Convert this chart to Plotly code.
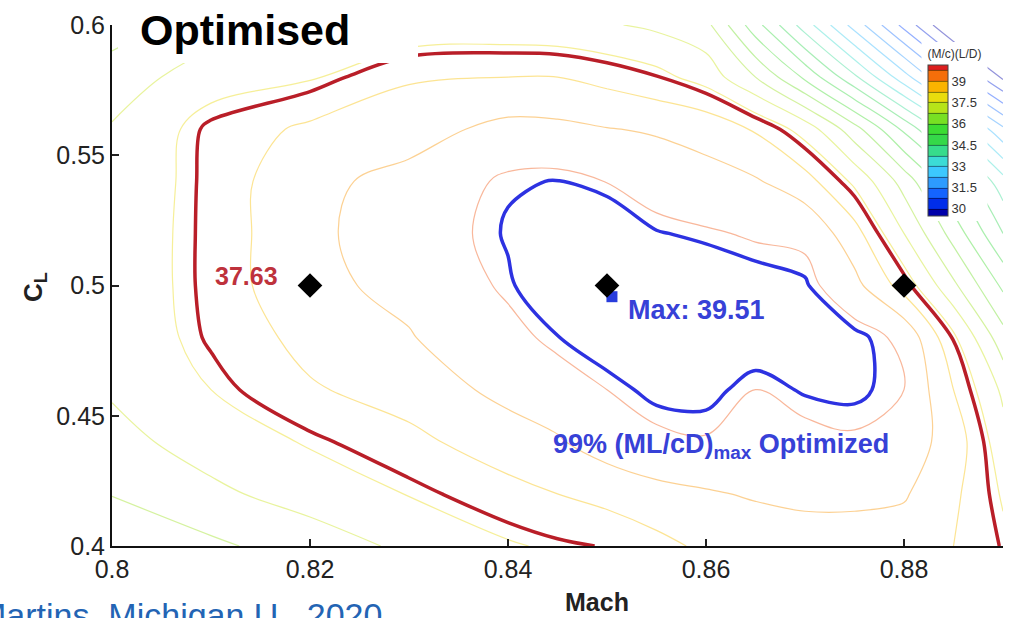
import plotly.graph_objects as go

# ---- data ----
mach = [0.80, 0.81, 0.82, 0.83, 0.84, 0.845, 0.85, 0.855, 0.86, 0.865, 0.87, 0.875, 0.88, 0.885, 0.89]
cl = [0.40, 0.42, 0.44, 0.46, 0.48, 0.50, 0.52, 0.54, 0.56, 0.58, 0.60]

ml_cd_040 = [36.1, 36.4, 36.75, 37.1, 37.45, 37.57, 37.65, 37.85, 38.1, 38.2, 38.3, 38.3, 38.25, 38.0, 37.6]
ml_cd_042 = [36.52, 36.9, 37.2, 37.52, 37.85, 38.0, 38.15, 38.35, 38.45, 38.55, 38.6, 38.6, 38.55, 38.1, 37.45]
ml_cd_044 = [36.85, 37.2, 37.55, 37.88, 38.25, 38.45, 38.75, 38.9, 38.97, 38.9, 38.88, 38.95, 38.75, 38.3, 37.2]
ml_cd_046 = [37.05, 37.5, 37.95, 38.2, 38.65, 38.79, 39.0, 39.2, 39.2, 39.0, 39.14, 39.17, 39.0, 38.0, 36.9]
ml_cd_048 = [37.12, 37.68, 38.15, 38.47, 38.87, 39.1, 39.3, 39.35, 39.3, 39.3, 39.25, 39.2, 38.9, 37.6, 36.2]
ml_cd_050 = [37.15, 37.72, 38.39, 38.62, 39.07, 39.35, 39.5, 39.45, 39.35, 39.25, 39.15, 38.65, 37.8, 36.6, 35.4]
ml_cd_052 = [37.15, 37.72, 38.4, 38.75, 39.14, 39.3, 39.4, 39.13, 39.05, 38.95, 38.9, 38.2, 37.0, 35.8, 34.5]
ml_cd_054 = [37.1, 37.72, 38.38, 38.65, 39.08, 39.12, 38.99, 38.8, 38.65, 38.55, 38.2, 37.4, 36.3, 35.0, 33.7]
ml_cd_056 = [37.05, 37.7, 38.1, 38.3, 38.65, 38.62, 38.52, 38.45, 38.35, 37.95, 37.3, 36.2, 34.9, 33.5, 32.1]
ml_cd_058 = [36.7, 37.3, 37.45, 37.95, 38.0, 38.0, 37.85, 37.65, 37.3, 36.5, 35.4, 34.1, 32.7, 31.3, 29.9]
ml_cd_060 = [36.3, 36.7, 36.95, 37.15, 37.2, 37.15, 37.05, 36.9, 36.65, 35.2, 33.75, 32.3, 30.85, 29.4, 28.0]

z_grid = [ml_cd_040, ml_cd_042, ml_cd_044, ml_cd_046, ml_cd_048, ml_cd_050,
          ml_cd_052, ml_cd_054, ml_cd_056, ml_cd_058, ml_cd_060]

design_mach = [0.82, 0.85, 0.88]
design_cl = [0.5, 0.5, 0.5]
max_point = (0.8505, 0.4957)
max_value = 39.51
level_red = 37.63
level_blue = 39.11

x_ticks = [0.80, 0.82, 0.84, 0.86, 0.88]
x_ticktext = ["0.8", "0.82", "0.84", "0.86", "0.88"]
y_ticks = [0.40, 0.45, 0.50, 0.55, 0.60]
y_ticktext = ["0.4", "0.45", "0.5", "0.55", "0.6"]
cbar_ticks = [30, 31.5, 33, 34.5, 36, 37.5, 39]

FONT = "Liberation Sans, Arial, sans-serif"
ZMIN, ZMAX = 29.5, 40.0

stops = [
    (29.5, "rgb(0,0,170)"), (30.5, "rgb(0,60,255)"), (31.5, "rgb(40,140,255)"),
    (32.5, "rgb(60,200,255)"), (33.5, "rgb(60,225,200)"), (34.5, "rgb(50,215,80)"),
    (35.5, "rgb(60,220,50)"), (36.5, "rgb(140,225,30)"), (37.5, "rgb(225,230,20)"),
    (38.25, "rgb(250,200,0)"), (39.0, "rgb(250,140,0)"), (39.5, "rgb(240,80,20)"),
    (40.0, "rgb(220,30,30)"),
]
colorscale = [[(v - ZMIN) / (ZMAX - ZMIN), c] for v, c in stops]

fig = go.Figure()

# thin contour lines
fig.add_trace(go.Contour(
    x=mach, y=cl, z=z_grid, autocontour=False,
    contours=dict(start=30, end=39.5, size=0.5, coloring="lines"),
    colorscale=colorscale, zmin=ZMIN, zmax=ZMAX,
    line=dict(width=1.2, smoothing=1.0), opacity=0.42,
    showscale=False, hoverinfo="skip",
))

# invisible filled trace used only for the colour legend
fig.add_trace(go.Contour(
    x=mach, y=cl, z=z_grid, autocontour=False,
    contours=dict(start=30, end=39.75, size=0.75, coloring="fill"),
    colorscale=colorscale, zmin=ZMIN, zmax=ZMAX,
    line=dict(width=0.8, color="rgba(0,0,0,0.6)"), opacity=0,
    showscale=True, hoverinfo="skip",
    colorbar=dict(
        x=(922 - 112) / 891, xanchor="left", xpad=6,
        y=(546 - 131) / 521, yanchor="middle", ypad=4,
        len=178 / 521, thickness=20,
        tickvals=cbar_ticks, ticktext=[str(t) for t in cbar_ticks],
        tickfont=dict(size=13, family=FONT, color="#333"),
        ticks="", outlinecolor="#444", outlinewidth=1,
        bgcolor="white",
        title=dict(text="(M/c)(L/D)", side="top", font=dict(size=12, family=FONT, color="#333")),
    ),
))

# highlighted contours
fig.add_trace(go.Contour(
    x=mach, y=cl, z=z_grid, autocontour=False,
    contours=dict(start=level_red, end=level_red, size=1, coloring="none"),
    line=dict(color="rgb(185,30,40)", width=3.5, smoothing=1.0),
    showscale=False, hoverinfo="skip",
))
fig.add_trace(go.Contour(
    x=mach, y=cl, z=z_grid, autocontour=False,
    contours=dict(start=level_blue, end=level_blue, size=1, coloring="none"),
    line=dict(color="rgb(45,50,225)", width=3.5, smoothing=1.0),
    showscale=False, hoverinfo="skip",
))

# max marker and design points
fig.add_trace(go.Scatter(
    x=[max_point[0]], y=[max_point[1]], mode="markers",
    marker=dict(symbol="square", size=11, color="rgb(40,60,220)"),
    showlegend=False, hoverinfo="skip",
))
fig.add_trace(go.Scatter(
    x=design_mach, y=design_cl, mode="markers",
    marker=dict(symbol="diamond", size=19, color="black"),
    showlegend=False, hoverinfo="skip",
))

# title box
fig.add_shape(type="rect", xref="paper", yref="paper",
              x0=(118 - 112) / 891, x1=(418 - 112) / 891,
              y0=(546 - 63) / 521, y1=(546 + 5) / 521,
              fillcolor="white", line=dict(width=0), layer="above")

annotations = [
    dict(text="Optimised", xref="paper", yref="paper", x=(138 - 112) / 891, y=(546 - 30) / 521,
         xanchor="left", yanchor="middle", showarrow=False,
         font=dict(size=43, family=FONT, color="black", weight="bold")),
    dict(text=f"{level_red:.2f}", xref="x", yref="y", x=0.8136, y=0.5036,
         xanchor="center", yanchor="middle", showarrow=False,
         font=dict(size=25, family=FONT, color="rgb(190,50,60)", weight="bold")),
    dict(text=f"Max: {max_value:.2f}", xref="x", yref="y", x=0.8519, y=0.4906,
         xanchor="left", yanchor="middle", showarrow=False,
         font=dict(size=27, family=FONT, color="rgb(55,65,215)", weight="bold")),
    dict(text="99% (ML/cD)<sub>max</sub> Optimized", xref="x", yref="y", x=0.8443, y=0.4385,
         xanchor="left", yanchor="middle", showarrow=False,
         font=dict(size=27, family=FONT, color="rgb(55,65,215)", weight="bold")),
    dict(text="Mach", xref="paper", yref="paper", x=(597 - 112) / 891, y=(546 - 602) / 521,
         xanchor="center", yanchor="middle", showarrow=False,
         font=dict(size=25, family=FONT, color="#222", weight="bold")),
    dict(text="C<sub>L</sub>", xref="paper", yref="paper", x=(34 - 112) / 891, y=(546 - 287) / 521,
         xanchor="center", yanchor="middle", showarrow=False, textangle=-90,
         font=dict(size=26, family=FONT, color="#222", weight="bold")),
    dict(text="Martins, Michigan U., 2020", xref="paper", yref="paper", x=(-24 - 112) / 891,
         y=(546 - 594) / 521, xanchor="left", yanchor="top", showarrow=False,
         font=dict(size=34, family=FONT, color="rgb(35,100,180)")),
]

fig.update_layout(
    width=1023, height=618,
    margin=dict(l=112, r=20, t=25, b=72),
    paper_bgcolor="white", plot_bgcolor="white",
    showlegend=False,
    annotations=annotations,
    xaxis=dict(range=[0.80, 0.89], tickvals=x_ticks, ticktext=x_ticktext,
               ticks="inside", ticklen=7, tickwidth=1.5, tickcolor="#222",
               showline=True, linecolor="#111", linewidth=2, mirror=False,
               showgrid=False, zeroline=False,
               tickfont=dict(size=25, family=FONT, color="#222")),
    yaxis=dict(range=[0.40, 0.60], tickvals=y_ticks, ticktext=y_ticktext,
               ticks="inside", ticklen=7, tickwidth=1.5, tickcolor="#222",
               showline=True, linecolor="#111", linewidth=2, mirror=False,
               showgrid=False, zeroline=False,
               tickfont=dict(size=25, family=FONT, color="#222")),
)

fig.write_html("out.html")
